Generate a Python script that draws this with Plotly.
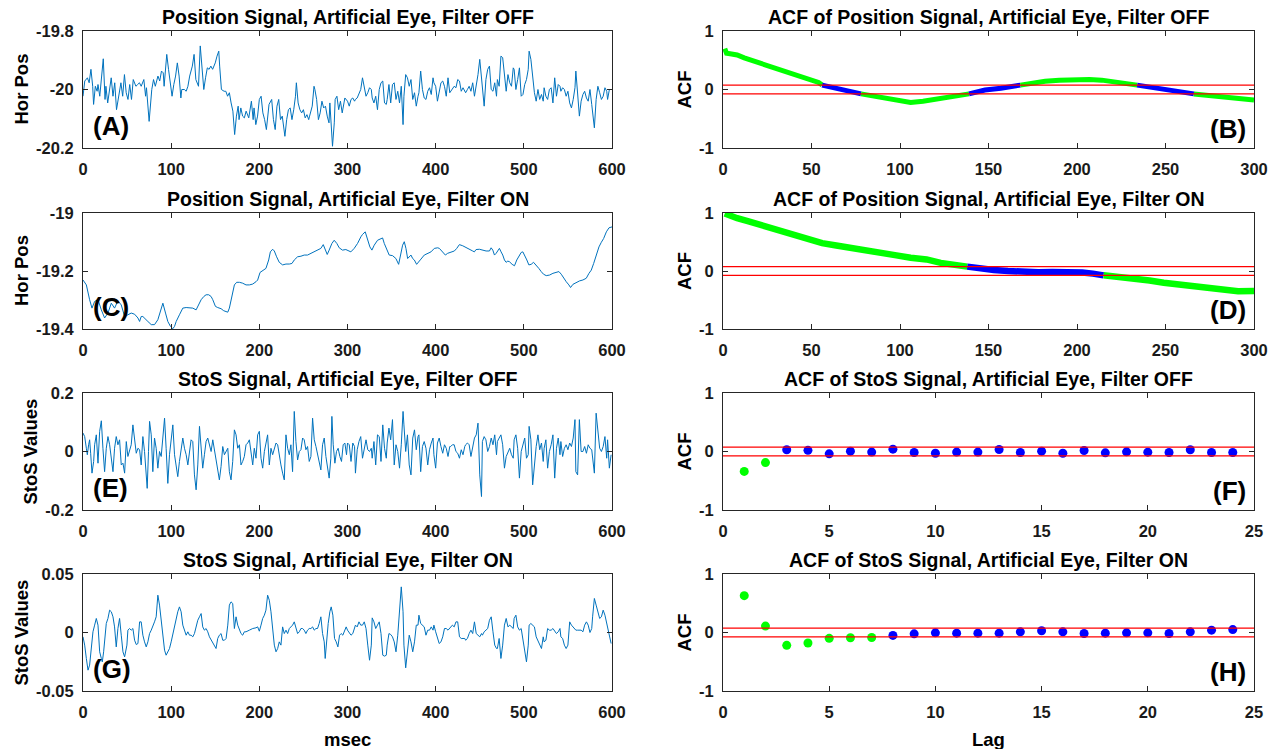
import plotly.graph_objects as go

# ---------------- data ----------------
# (A) Position signal, filter OFF  (msec, horizontal position)
A1_T = [0,2,5,7,9,11,12,14,16,17, 19,21,23,25,26,28,30,32,34,36,
        38,41,43,45,47,49,51,53,55,57, 60,62,64,66,69,71,72,75,77,78,
        80,82,85,87,89,91,92,95,97,99, 101,103,105,107,109,111,112,115,117,119,
        121,124,126,128,131,133,135,137,139,141, 143,145,147,150,152,154,155,157,160,162,
        164,166,168,170,172,174,176,177,179,181, 183,185,188,191,193,194,196,198,200,202,
        204,206,208,209,211,214,216,218,220,222, 224,226,229,231,233,235,237,239,241,242,
        244,246,248,250,252,254,256,257,260,262, 263,265,267,269,271,273,275,277,279,280,
        283,285,286,288,290,292,294,296,297]
A1_V = [-20.023,-19.971,-19.960,-19.977,-19.931,-19.989,-20.051,-19.989,-20.006,-19.983,
        -20.023,-19.943,-19.895,-20.034,-19.989,-20.046,-20.006,-19.960,-20.023,-19.977,
        -20.069,-20.011,-19.977,-20.023,-19.949,-20.011,-20.034,-19.983,-20.034,-19.966,
        -19.989,-19.983,-19.977,-19.989,-19.966,-20.023,-19.994,-20.109,-20.011,-20.000,
        -19.966,-19.989,-19.954,-19.971,-19.937,-19.943,-19.989,-19.880,-19.931,-19.989,
        -20.023,-19.983,-19.954,-19.909,-19.954,-20.029,-20.000,-20.000,-20.006,-19.989,
        -19.954,-19.920,-19.880,-19.966,-19.989,-19.851,-19.920,-20.000,-19.960,-19.926,
        -19.931,-19.920,-19.931,-19.909,-19.886,-19.869,-19.920,-20.000,-20.006,-20.006,
        -20.023,-20.011,-20.046,-20.074,-20.154,-20.091,-20.057,-20.103,-20.063,-20.091,
        -20.097,-20.074,-20.097,-20.040,-20.103,-20.063,-20.120,-20.091,-20.034,-20.023,
        -20.080,-20.103,-20.137,-20.114,-20.051,-20.034,-20.103,-20.137,-20.057,-20.034,
        -20.103,-20.091,-20.160,-20.103,-20.069,-20.063,-20.103,-20.069,-20.023,-19.977,
        -20.046,-20.069,-20.080,-20.069,-20.097,-20.086,-20.103,-20.091,-20.057,-19.989,
        -20.000,-20.034,-20.103,-20.080,-20.040,-20.063,-20.057,-20.091,-20.114,-20.046,
        -20.194,-20.114,-20.034,-20.023,-20.069,-20.040,-20.080,-20.046,-20.029]

# sampling times used for the second halves of (A), (E), (G)
T2 = [300,302,304,306,308,309,311,313,315,317, 319,321,323,325,327,328,330,332,334,336,
      338,340,342,344,345,347,349,351,353,355, 357,359,361,363,364,366,368,370,372,374,
      376,378,380,381,383,385,387,389,391,393, 395,397,398,400,402,404,406,408,410,412,
      414,416,417,419,421,423,425,427,429,431, 433,434,436,438,440,442,444,446,448,450,
      452,453,455,457,459,461,463,465,467,469, 470,472,474,476,478,480,482,484,486,488,
      489,491,493,495,497,499,501,503,505,506, 508,510,512,514,516,518,520,522,523,525,
      527,529,531,533,535,537,539,541,542,544, 546,548,550,552,554,556,558,559,561,563,
      565,567,569,571,573,575,577,578,580,582, 584,586,588,590,592,594,595,597,599]
A2_V = [-20.040,-20.057,-20.034,-20.029,-20.040,-20.034,-20.029,-20.011,-20.000,-19.960,
        -20.000,-20.023,-20.011,-19.994,-20.000,-20.029,-20.046,-20.023,-20.069,-20.000,
        -19.977,-19.971,-20.046,-20.051,-20.034,-19.983,-20.046,-19.983,-19.977,-20.034,
        -20.006,-20.046,-19.989,-20.120,-20.023,-19.949,-19.960,-19.989,-19.966,-20.034,
        -20.011,-20.057,-20.023,-20.011,-19.937,-20.000,-20.029,-20.034,-20.006,-19.994,
        -20.017,-19.960,-19.977,-19.989,-20.040,-20.000,-19.977,-19.971,-19.989,-20.023,
        -19.960,-20.011,-20.006,-20.000,-19.989,-19.994,-19.966,-19.971,-20.006,-19.994,
        -20.006,-20.011,-20.000,-19.989,-20.006,-19.977,-20.023,-19.989,-19.949,-19.897,
        -19.960,-20.006,-20.057,-19.966,-19.931,-19.920,-20.000,-20.006,-19.977,-20.023,
        -19.966,-19.989,-19.886,-19.891,-19.949,-20.006,-19.949,-19.977,-19.989,-19.926,
        -19.931,-20.000,-19.966,-19.926,-20.023,-20.017,-19.983,-19.966,-19.931,-19.869,
        -19.897,-19.960,-20.011,-20.040,-20.000,-20.034,-20.017,-20.040,-19.994,-20.023,
        -20.034,-20.000,-19.994,-20.046,-19.960,-20.023,-19.983,-19.989,-20.006,-19.994,
        -20.000,-20.023,-20.006,-20.046,-20.063,-20.034,-19.994,-19.937,-20.029,-20.091,
        -20.040,-20.017,-20.006,-20.029,-20.040,-20.000,-20.051,-20.080,-20.131,-20.034,
        -19.989,-20.011,-20.034,-20.023,-19.994,-20.006,-20.034,-20.000,-20.000]

# (C) Position signal, filter ON
C1_T = [0,3.8,7.5,10.2,13.2,17,20.8,24.5,28.3,32.1, 35.8,39.6,43.4,47.2,50.9,54.7,58.5,62.3,64.2,66,
        67.9,70.9,73.6,77.4,81.1,84.9,87.5,90.6,93.6,96.2, 99.2,101.9,103.8,105.7,109.4,113.2,117,120.8,124.5,128.3,
        131.3,134,137,139.6,142.6,145.3,147.2,150.2,152.8,156.6, 159.6,162.3,164.2,166,169.1,171.7,174.3,177.4,181.1,184.9,
        188.7,192.5,196.2,198.1,200.8,203.8,207.5,210.6,212.5,215.1, 217,219.6,222.6,226.4,230.2,234,237,239.6,243.4,247.2,
        250.9,254.7,258.5,262.3,266,269.8,272.5,274.7,277,279.2, 282.3,284.9,287.9,290.6,294.3,298.1]
C1_V = [-19.231,-19.248,-19.299,-19.328,-19.305,-19.299,-19.334,-19.362,-19.345,-19.311,
        -19.328,-19.303,-19.317,-19.357,-19.351,-19.345,-19.349,-19.362,-19.374,-19.357,
        -19.357,-19.368,-19.374,-19.385,-19.385,-19.368,-19.339,-19.311,-19.345,-19.374,
        -19.391,-19.399,-19.391,-19.374,-19.351,-19.328,-19.326,-19.328,-19.328,-19.334,
        -19.317,-19.299,-19.288,-19.282,-19.282,-19.288,-19.299,-19.322,-19.326,-19.330,
        -19.337,-19.339,-19.342,-19.328,-19.282,-19.248,-19.239,-19.239,-19.242,-19.248,
        -19.248,-19.245,-19.237,-19.231,-19.205,-19.200,-19.191,-19.162,-19.134,-19.125,
        -19.131,-19.151,-19.170,-19.179,-19.176,-19.176,-19.174,-19.162,-19.151,-19.149,
        -19.145,-19.145,-19.139,-19.134,-19.130,-19.122,-19.109,-19.128,-19.143,-19.128,
        -19.105,-19.094,-19.105,-19.120,-19.128,-19.126]
C2_T = [300.0,303.8,307.6,311.4,315.2,317.0,320.1,322.7,325.4,327.7,
        330.3,334.1,337.9,339.8,341.7,345.5,347.3,351.1,354.9,358.0,
        360.6,362.5,364.4,366.3,368.2,370.1,372.0,373.9,375.8,378.4,
        380.7,383.3,387.1,390.9,394.7,398.5,402.3,404.2,408.0,411.0,
        413.6,417.4,421.2,423.9,426.9,430.7,434.5,438.3,442.0,443.9,
        445.8,449.6,453.4,457.2,461.0,462.9,464.8,466.7,468.6,470.5,
        472.3,474.2,476.1,478.0,479.9,481.8,483.7,486.7,489.4,492.0,
        495.1,497.0,498.9,500.8,503.4,505.7,508.3,511.0,514.0,517.0,
        519.7,522.3,525.4,529.2,533.0,536.7,539.8,542.4,545.1,548.1,
        551.1,553.0,555.7,559.5,563.3,567.0,570.8,573.9,576.5,579.2,
        582.2,585.2,587.9,590.5,593.6,596.6,600.0]
C2_V = [-19.128,-19.134,-19.122,-19.105,-19.082,-19.074,-19.065,-19.088,-19.117,-19.128,
        -19.111,-19.094,-19.088,-19.086,-19.105,-19.134,-19.145,-19.147,-19.157,-19.177,
        -19.145,-19.111,-19.099,-19.122,-19.157,-19.151,-19.145,-19.157,-19.162,-19.177,
        -19.170,-19.159,-19.145,-19.139,-19.134,-19.122,-19.120,-19.122,-19.134,-19.145,
        -19.139,-19.134,-19.131,-19.122,-19.109,-19.113,-19.120,-19.125,-19.131,-19.134,
        -19.126,-19.125,-19.128,-19.131,-19.131,-19.120,-19.128,-19.145,-19.139,-19.128,
        -19.122,-19.134,-19.145,-19.162,-19.170,-19.166,-19.168,-19.177,-19.182,-19.162,
        -19.143,-19.136,-19.134,-19.145,-19.162,-19.179,-19.177,-19.170,-19.179,-19.191,
        -19.202,-19.211,-19.216,-19.214,-19.208,-19.205,-19.202,-19.211,-19.225,-19.237,
        -19.248,-19.257,-19.246,-19.239,-19.234,-19.231,-19.225,-19.208,-19.197,-19.174,
        -19.145,-19.117,-19.101,-19.088,-19.065,-19.051,-19.048]

# (E) StoS signal, filter OFF
E1_T = [0,1.9,3.8,4.9,6.4,7.5,8.7,10.2,12.1,13.2, 15.1,17.0,18.9,20.8,22.6,24.5,26.4,28.3,30.2,32.1,
        34.0,35.8,37.7,39.6,41.5,43.4,45.3,47.2,49.1,50.9, 52.8,54.7,56.6,58.5,60.4,62.3,64.2,66.0,67.9,69.8,
        71.7,72.8,74.3,75.5,77.4,79.2,81.1,83.0,84.9,86.8, 88.7,90.6,92.5,94.3,96.2,98.1,100.0,101.9,103.8,105.7,
        107.5,109.4,111.3,113.2,115.1,117.0,118.9,120.8,122.6,124.5, 126.4,128.3,130.2,132.1,134.0,135.8,137.7,139.6,141.5,143.4,
        145.3,147.2,149.1,150.9,152.8,154.7,156.6,158.5,160.4,162.3, 164.2,166.0,167.9,169.8,171.7,173.6,175.5,177.4,179.2,181.1,
        183.0,184.9,186.8,188.7,190.6,192.5,194.3,196.2,198.1,200.0, 201.9,203.8,205.7,207.5,209.4,211.3,213.2,215.1,217.0,218.9,
        220.8,222.6,224.5,226.4,228.3,230.2,232.1,234.0,235.8,237.7, 239.6,241.5,243.4,245.3,247.2,249.1,250.9,252.8,254.7,256.6,
        258.5,260.4,262.3,264.2,266.0,267.9,269.8,271.7,273.6,275.5, 277.4,279.2,281.1,282.3,283.8,285.7,287.5,289.4,291.3,293.2,
        295.1,297.0,298.9]
E1_V = [0.063,0.051,0.011,-0.011,0.023,0.040,-0.006,-0.074,-0.034,0.023,
        0.057,-0.040,0.069,0.105,0.011,-0.069,0.011,0.051,0.023,-0.029,
        -0.069,0.011,0.051,0.023,0.040,-0.046,-0.040,-0.074,0.034,-0.017,
        0.006,0.023,0.091,0.034,-0.006,0.011,0.006,-0.046,0.051,0.000,
        -0.069,-0.126,0.000,0.103,0.057,-0.069,0.046,0.011,-0.057,0.000,
        -0.017,0.046,0.114,0.011,-0.109,-0.011,0.040,0.091,-0.011,-0.046,
        -0.086,-0.034,0.017,0.046,0.011,-0.011,-0.046,0.011,0.040,0.034,
        -0.080,-0.131,-0.046,0.086,0.011,-0.057,-0.011,0.034,0.046,0.023,
        0.000,0.040,0.006,-0.023,-0.069,-0.097,-0.051,0.017,-0.011,0.000,
        0.011,-0.069,-0.097,-0.034,0.074,0.057,0.011,0.023,-0.046,-0.034,
        -0.017,0.023,0.029,0.040,-0.006,-0.046,0.011,-0.023,0.057,0.069,
        -0.023,-0.057,0.000,0.029,0.057,-0.046,0.011,-0.011,0.006,0.029,
        0.023,-0.017,-0.046,-0.074,-0.097,0.057,0.011,-0.011,0.023,-0.069,
        0.137,0.034,-0.029,0.000,0.006,0.046,0.040,0.006,0.017,-0.034,
        -0.017,0.114,0.040,0.017,-0.011,-0.034,-0.063,0.023,0.046,-0.017,
        -0.057,-0.091,-0.023,0.120,0.023,-0.040,0.000,0.011,-0.017,-0.034,
        0.023,0.029,-0.011]
E2_V = [0.029,0.023,-0.034,0.029,0.017,-0.074,0.006,0.034,0.051,-0.023,
        0.011,0.040,0.006,0.000,0.011,-0.023,0.034,-0.046,0.057,0.051,
        -0.034,0.091,0.011,-0.023,0.029,0.080,0.040,0.109,-0.046,0.023,
        0.000,-0.057,0.023,0.137,0.091,0.000,0.057,-0.046,-0.080,0.046,
        0.074,0.006,0.051,0.057,-0.069,0.017,0.034,0.011,-0.046,0.006,
        0.029,0.046,-0.011,-0.057,0.029,0.046,0.017,-0.006,0.023,0.011,
        -0.017,0.017,0.017,0.023,0.023,0.000,-0.006,-0.023,0.006,-0.011,
        0.017,0.023,0.029,0.023,-0.017,0.011,0.046,0.057,0.097,-0.080,
        -0.154,0.034,0.051,0.040,0.000,0.017,0.046,0.023,0.057,-0.011,
        0.034,0.046,0.057,0.023,-0.057,-0.017,0.000,0.011,-0.011,-0.023,
        0.040,0.057,0.011,-0.091,0.000,0.029,0.046,-0.023,-0.011,0.086,
        0.040,-0.114,-0.046,0.017,0.057,0.006,0.029,-0.034,0.011,0.040,
        -0.057,0.000,0.023,0.057,-0.091,0.011,0.046,-0.011,0.034,-0.017,
        0.011,0.023,0.006,0.029,0.017,0.046,0.109,-0.069,-0.080,0.109,
        0.000,0.000,0.017,-0.006,0.023,0.011,0.006,-0.023,-0.074,0.131,
        0.057,0.011,0.000,0.017,0.051,-0.023,0.040,-0.057,-0.011]

# (G) StoS signal, filter ON
G1_T = [0,1.9,3.8,5.7,7.5,9.4,11.3,13.2,15.1,17.0, 18.9,20.8,21.9,23.4,25.3,26.4,28.3,30.2,32.1,34.0,
        35.8,37.7,39.6,41.5,43.4,45.3,47.2,49.8,50.9,52.8, 54.7,56.6,58.5,60.4,62.3,64.2,66.0,67.9,69.8,71.7,
        73.6,75.5,77.4,79.2,81.1,83.0,84.9,86.8,88.7,90.6, 92.5,94.3,96.2,98.1,100.0,101.9,103.8,105.7,107.5,109.4,
        111.3,113.2,115.1,117.0,118.9,120.8,122.6,124.5,126.4,128.3, 130.2,132.1,134.0,135.8,137.7,139.6,141.5,143.4,145.3,147.2,
        149.1,150.9,152.8,154.7,156.6,158.5,160.4,162.3,164.2,166.0, 167.9,169.8,171.7,173.6,175.5,177.4,179.2,181.1,183.0,184.9,
        186.8,188.7,192.5,194.3,196.2,198.1,200.0,201.9,203.8,205.7, 207.5,209.4,211.3,213.2,215.1,217.0,218.9,220.8,222.6,224.5,
        226.4,228.3,230.2,232.1,234.0,235.8,237.7,239.6,241.5,243.4, 245.3,247.2,249.1,250.9,252.8,254.7,256.6,258.5,260.4,262.3,
        264.2,266.0,267.9,269.8,271.7,273.6,274.7,276.2,278.1,280.0, 281.5,283.4,285.3,287.2,289.1,291.0,292.8,294.7,296.6,298.5]
G1_V = [-0.0037,-0.0108,-0.0222,-0.0322,-0.0279,-0.0137,0.0006,0.0063,0.0120,0.0063,
        -0.0165,-0.0222,-0.0251,-0.0165,0.0006,0.0077,0.0120,0.0191,0.0177,0.0134,
        0.0048,-0.0123,0.0034,0.0120,-0.0023,-0.0165,-0.0208,-0.0108,0.0020,0.0034,
        0.0020,0.0034,-0.0066,-0.0103,-0.0094,0.0091,0.0091,-0.0023,-0.0080,-0.0123,
        -0.0080,-0.0009,0.0020,0.0048,0.0091,0.0134,0.0319,0.0234,0.0091,-0.0066,
        -0.0151,-0.0194,-0.0165,-0.0137,-0.0080,-0.0009,0.0048,0.0120,0.0177,0.0219,
        0.0177,0.0063,0.0020,-0.0023,0.0006,-0.0023,-0.0023,-0.0037,-0.0009,0.0063,
        0.0105,0.0134,0.0162,0.0048,0.0020,0.0034,0.0006,-0.0037,-0.0066,-0.0094,
        -0.0123,-0.0137,-0.0051,-0.0023,-0.0009,-0.0066,-0.0066,-0.0051,0.0063,0.0234,
        0.0262,0.0248,0.0034,0.0134,0.0063,0.0020,-0.0009,-0.0023,0.0006,0.0006,
        0.0011,0.0020,0.0034,0.0034,0.0040,0.0048,0.0011,0.0063,0.0120,0.0148,
        0.0191,0.0319,0.0276,0.0177,0.0006,-0.0108,-0.0165,-0.0137,-0.0080,-0.0108,
        0.0048,-0.0009,0.0020,-0.0009,0.0034,0.0048,0.0063,0.0091,0.0034,-0.0009,
        0.0006,0.0034,0.0034,0.0020,-0.0009,0.0020,0.0034,0.0034,0.0048,0.0020,
        0.0034,0.0034,0.0077,0.0134,-0.0009,-0.0080,-0.0222,-0.0080,0.0077,0.0177,
        0.0219,0.0148,-0.0051,-0.0080,-0.0123,-0.0023,-0.0009,-0.0023,0.0020,0.0048]
G2_V = [0.0020,0.0000,-0.0023,-0.0009,0.0034,0.0063,0.0048,0.0091,0.0063,0.0063,
        0.0091,0.0034,-0.0108,-0.0237,-0.0108,0.0125,0.0091,0.0034,0.0063,0.0091,
        -0.0009,-0.0194,-0.0202,-0.0194,-0.0108,-0.0009,-0.0017,-0.0037,-0.0080,-0.0165,
        -0.0023,0.0177,0.0390,0.0177,-0.0108,-0.0302,-0.0165,-0.0023,-0.0080,-0.0165,
        -0.0080,0.0063,0.0063,0.0148,0.0077,0.0063,0.0048,-0.0023,0.0020,0.0020,
        0.0048,0.0020,0.0063,0.0006,-0.0037,-0.0094,-0.0080,-0.0037,0.0034,0.0034,
        0.0020,0.0034,0.0048,0.0063,0.0048,0.0091,0.0091,-0.0037,-0.0051,-0.0051,
        -0.0051,-0.0066,-0.0051,-0.0009,0.0020,-0.0009,0.0091,-0.0009,-0.0023,-0.0037,
        -0.0009,-0.0023,0.0006,0.0020,0.0034,0.0105,0.0134,0.0006,-0.0108,-0.0137,
        -0.0137,-0.0051,-0.0222,-0.0108,0.0063,0.0120,0.0048,0.0063,0.0048,0.0034,
        0.0120,0.0148,0.0048,0.0020,0.0034,-0.0066,-0.0180,-0.0251,-0.0108,0.0063,
        0.0077,0.0063,0.0048,-0.0037,-0.0066,-0.0108,-0.0137,-0.0037,-0.0080,-0.0066,
        0.0034,0.0020,0.0020,0.0034,0.0006,-0.0009,0.0006,0.0034,-0.0037,-0.0051,
        -0.0108,-0.0137,-0.0108,0.0091,0.0063,0.0048,0.0034,0.0020,0.0020,0.0020,
        0.0020,0.0006,0.0063,0.0091,0.0063,0.0000,0.0034,0.0134,0.0291,0.0234,
        0.0162,0.0120,0.0134,0.0191,0.0148,0.0077,0.0048,-0.0009,-0.0094]

# (B) ACF of position signal, filter OFF (lag, acf)
B_LAG = [1,2,4,8,12,17,22,28,33,38,43,49,54,56,60,64,71,78,85,94,100,106,113,119,127,136,
         139,148,157,163,168,174,182,190,199,207,214,222,230,234,245,253,262,266,274,285,293,300]
B_ACF = [0.70,0.62,0.61,0.59,0.54,0.49,0.43,0.38,0.33,0.27,0.22,0.17,0.12,0.075,0.05,0.01,
         -0.03,-0.075,-0.11,-0.17,-0.20,-0.22,-0.20,-0.17,-0.13,-0.09,-0.075,-0.01,0.02,0.06,
         0.075,0.11,0.14,0.16,0.17,0.17,0.16,0.13,0.09,0.075,0.02,-0.01,-0.05,-0.075,-0.10,
         -0.14,-0.16,-0.18]
# (D) ACF of position signal, filter ON
D_LAG = [1,4,8,14,22,31,39,48,56,64,73,81,90,98,106,115,123,132,138,144,153,161,169,178,
         186,195,203,209,215,224,232,241,249,258,266,274,283,291,300]
D_ACF = [0.99,0.95,0.91,0.86,0.79,0.70,0.64,0.56,0.48,0.44,0.39,0.34,0.31,0.27,0.23,0.20,
         0.14,0.10,0.075,0.045,0.017,0.0,-0.02,-0.02,-0.017,-0.011,-0.028,-0.045,-0.075,
         -0.096,-0.124,-0.163,-0.203,-0.237,-0.276,-0.31,-0.338,-0.349,-0.345]
# (F) ACF of StoS signal, filter OFF
F_LAG = list(range(1, 25))
F_ACF = [-0.34,-0.19,0.03,0.02,-0.04,0.006,-0.01,0.04,-0.017,-0.03,-0.01,-0.01,
         0.034,-0.017,0.006,-0.03,0.017,-0.023,-0.006,-0.011,-0.017,0.029,-0.017,-0.017]
# (H) ACF of StoS signal, filter ON
H_LAG = list(range(1, 25))
H_ACF = [0.63,0.11,-0.22,-0.18,-0.10,-0.09,-0.086,-0.05,-0.023,-0.006,-0.011,-0.011,
         -0.011,0.011,0.029,0.011,-0.017,-0.011,-0.006,-0.006,-0.017,0.011,0.04,0.05]
BOUND = 0.075  # confidence bound drawn as red lines

TITLES = ["Position Signal, Artificial Eye, Filter OFF", "ACF of Position Signal, Artificial Eye, Filter OFF",
          "Position Signal, Artificial Eye, Filter ON", "ACF of Position Signal, Artificial Eye, Filter ON",
          "StoS Signal, Artificial Eye, Filter OFF", "ACF of StoS Signal, Artificial Eye, Filter OFF",
          "StoS Signal, Artificial Eye, Filter ON", "ACF of StoS Signal, Artificial Eye, Filter ON"]
YLABELS = ["Hor Pos", "ACF", "Hor Pos", "ACF", "StoS Values", "ACF", "StoS Values", "ACF"]
PANEL_TAGS = ["(A)", "(B)", "(C)", "(D)", "(E)", "(F)", "(G)", "(H)"]
Y_TICKS = [([-20.2, -20, -19.8], ["-20.2", "-20", "-19.8"]),
           ([-19.4, -19.2, -19], ["-19.4", "-19.2", "-19"]),
           ([-0.2, 0, 0.2], ["-0.2", "0", "0.2"]),
           ([-0.05, 0, 0.05], ["-0.05", "0", "0.05"])]
ACF_TICKS = ([-1, 0, 1], ["-1", "0", "1"])
X_TICKS_SIG = [0, 100, 200, 300, 400, 500, 600]
X_TICKS_LAG300 = [0, 50, 100, 150, 200, 250, 300]
X_TICKS_LAG25 = [0, 5, 10, 15, 20, 25]

# ---------------- layout geometry (pixels) ----------------
W, H = 1279, 749
COLS = [(83, 612), (723, 1254)]
ROWS = [(31, 148), (213, 329), (393, 510), (574, 691)]
YLAB_X = [[21, 684], [21, 684], [30, 684], [21, 684]]
FONT = "Liberation Sans, Arial, Helvetica, sans-serif"
AX = "#262626"
SIG = "#0072BD"
GREEN = "#00FF00"
BLUE = "#0000FF"
RED = "red"


def xdom(c):
    return [COLS[c][0] / W, COLS[c][1] / W]


def ydom(r):
    return [1 - ROWS[r][1] / H, 1 - ROWS[r][0] / H]


def xa(n):
    return "x" if n == 1 else f"x{n}"


def ya(n):
    return "y" if n == 1 else f"y{n}"


fig = go.Figure()

signals = [(A1_T + T2, A1_V + A2_V), (C1_T + C2_T, C1_V + C2_V),
           (E1_T + T2, E1_V + E2_V), (G1_T + T2, G1_V + G2_V)]
for r, (tt, vv) in enumerate(signals):
    assert len(tt) == len(vv), (r, len(tt), len(vv))
    n = r * 2 + 1
    fig.add_trace(go.Scatter(x=tt, y=vv, mode="lines", line=dict(color=SIG, width=1),
                             xaxis=xa(n), yaxis=ya(n), hoverinfo="skip"))


def runs(lags, vals):
    segs = []
    for i in range(len(lags) - 1):
        col = GREEN if abs((vals[i] + vals[i + 1]) / 2) > BOUND else BLUE
        if segs and segs[-1][0] == col:
            segs[-1][1].append(lags[i + 1]); segs[-1][2].append(vals[i + 1])
        else:
            segs.append([col, [lags[i], lags[i + 1]], [vals[i], vals[i + 1]]])
    return segs


for n, (lags, vals, wid) in [(2, (B_LAG, B_ACF, 5)), (4, (D_LAG, D_ACF, 6.5))]:
    assert len(lags) == len(vals)
    for col, xs, ys in runs(lags, vals):
        fig.add_trace(go.Scatter(x=xs, y=ys, mode="lines", line=dict(color=col, width=wid),
                                 xaxis=xa(n), yaxis=ya(n), hoverinfo="skip"))

for n, (lags, vals) in [(6, (F_LAG, F_ACF)), (8, (H_LAG, H_ACF))]:
    cols = [GREEN if abs(v) > BOUND else BLUE for v in vals]
    fig.add_trace(go.Scatter(x=lags, y=vals, mode="markers",
                             marker=dict(color=cols, size=9, line=dict(width=0)),
                             xaxis=xa(n), yaxis=ya(n), hoverinfo="skip"))

shapes = []
for n in (2, 4, 6, 8):
    for b in (BOUND, -BOUND):
        shapes.append(dict(type="line", xref=xa(n) + " domain", yref=ya(n), x0=0, x1=1, y0=b, y1=b,
                           line=dict(color=RED, width=1.3), layer="above"))

tickfont = dict(family=FONT, size=16.5, color="#1a1a1a", weight="bold")
lay = {}
annotations = []
for r in range(4):
    for c in range(2):
        n = r * 2 + c + 1
        xs = "" if n == 1 else str(n)
        if c == 0:
            xr, xt = [0, 600], X_TICKS_SIG
            yr = [Y_TICKS[r][0][0], Y_TICKS[r][0][-1]]
            yv, ytx = Y_TICKS[r]
        else:
            xr, xt = ([0, 300], X_TICKS_LAG300) if r < 2 else ([0, 25], X_TICKS_LAG25)
            yr = [-1, 1]
            yv, ytx = ACF_TICKS
        common = dict(showgrid=False, zeroline=False, showline=True, mirror="ticks",
                      linecolor=AX, linewidth=1, ticks="inside", ticklen=5, tickcolor=AX,
                      tickwidth=1, tickfont=tickfont, automargin=False)
        lay["xaxis" + xs] = dict(domain=xdom(c), anchor=ya(n), range=xr, tickmode="array",
                                 tickvals=xt, ticktext=[str(v) for v in xt], ticklabelstandoff=6, **common)
        lay["yaxis" + xs] = dict(domain=ydom(r), anchor=xa(n), range=yr, tickmode="array",
                                 tickvals=yv, ticktext=ytx, ticklabelstandoff=5, **common)
        dx = xdom(c); dy = ydom(r)
        annotations.append(dict(text=TITLES[n - 1], xref="paper", yref="paper", x=(dx[0] + dx[1]) / 2,
                                y=dy[1], yshift=1, xanchor="center", yanchor="bottom", showarrow=False,
                                font=dict(family=FONT, size=19.5, color="black", weight="bold")))
        annotations.append(dict(text=YLABELS[n - 1], xref="paper", yref="paper",
                                x=YLAB_X[r][c] / W, y=(dy[0] + dy[1]) / 2,
                                xanchor="center", yanchor="middle", textangle=-90, showarrow=False,
                                font=dict(family=FONT, size=18.5, color="black", weight="bold")))
        if c == 0:
            annotations.append(dict(text=PANEL_TAGS[n - 1], xref=xa(n) + " domain", yref=ya(n) + " domain",
                                    x=0.016, y=0.19, xanchor="left", yanchor="middle", showarrow=False,
                                    font=dict(family=FONT, size=26, color="black", weight="bold")))
        else:
            annotations.append(dict(text=PANEL_TAGS[n - 1], xref=xa(n) + " domain", yref=ya(n) + " domain",
                                    x=0.988, y=0.16, xanchor="right", yanchor="middle", showarrow=False,
                                    font=dict(family=FONT, size=26, color="black", weight="bold")))

for c, lab in [(0, "msec"), (1, "Lag")]:
    dx = xdom(c)
    annotations.append(dict(text=lab, xref="paper", yref="paper", x=(dx[0] + dx[1]) / 2, y=1 - 739 / H,
                            xanchor="center", yanchor="middle", showarrow=False,
                            font=dict(family=FONT, size=18.5, color="black", weight="bold")))

fig.update_layout(width=W, height=H, autosize=False, margin=dict(l=0, r=0, t=0, b=0, autoexpand=False),
                  paper_bgcolor="white", plot_bgcolor="white", showlegend=False,
                  annotations=annotations, shapes=shapes, **lay)
fig.write_html("out.html", config={"displayModeBar": False, "staticPlot": True})

# remove the browser's default page margin so the figure sits at the window origin
with open("out.html", "r", encoding="utf-8") as fh:
    html = fh.read()
html = html.replace("<head>", "<head><style>html,body{margin:0;padding:0;overflow:hidden;}</style>", 1)
with open("out.html", "w", encoding="utf-8") as fh:
    fh.write(html)
